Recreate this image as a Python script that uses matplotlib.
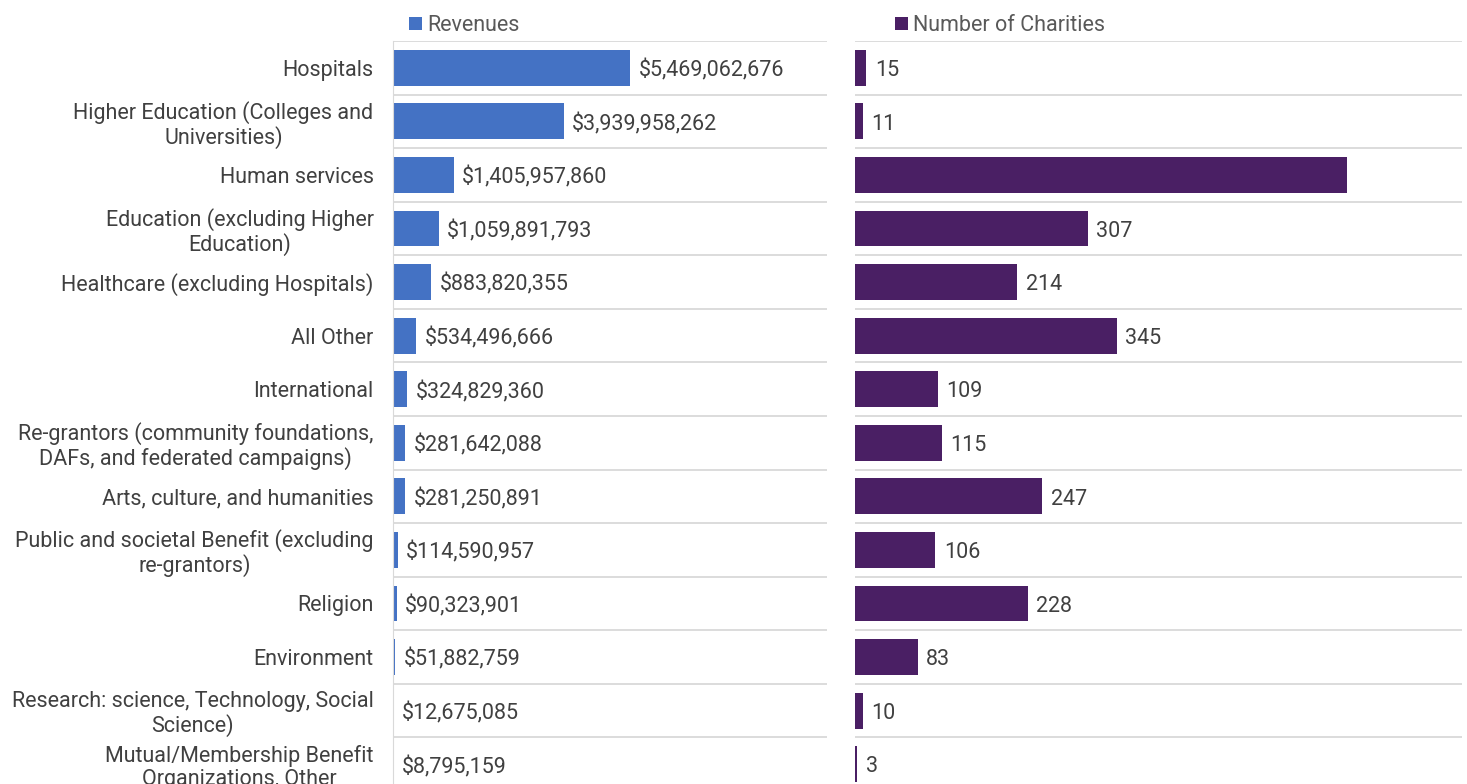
import numpy as np
import matplotlib
matplotlib.use("Agg")
import matplotlib.pyplot as plt

plt.rcParams['font.family'] = ['Roboto', 'DejaVu Sans']

# --- data ---
categories = [
    "Hospitals",
    "Higher Education (Colleges and\nUniversities)",
    "Human services",
    "Education (excluding Higher\nEducation)",
    "Healthcare (excluding Hospitals)",
    "All Other",
    "International",
    "Re-grantors (community foundations,\nDAFs, and federated campaigns)",
    "Arts, culture, and humanities",
    "Public and societal Benefit (excluding\nre-grantors)",
    "Religion",
    "Environment",
    "Research: science, Technology, Social\nScience)",
    "Mutual/Membership Benefit\nOrganizations, Other",
]
revenues = [5469062676, 3939958262, 1405957860, 1059891793, 883820355,
            534496666, 324829360, 281642088, 281250891, 114590957,
            90323901, 51882759, 12675085, 8795159]
charities = [15, 11, 648, 307, 214, 345, 109, 115, 247, 106, 228, 83, 10, 3]
# label for human services charities is not shown in the chart
charity_labels = ["15", "11", "", "307", "214", "345", "109", "115", "247",
                  "106", "228", "83", "10", "3"]

BLUE = "#4472C4"
PURPLE = "#4A1F64"
TXT = "#404040"
GRID = "#D9D9D9"
FS = 15.5

fig = plt.figure(figsize=(14.67, 7.84), dpi=100)
top = 1 - 41 / 784
h = 750 / 784
ax1 = fig.add_axes([393 / 1467, top - h, 434 / 1467, h])
ax2 = fig.add_axes([855 / 1467, top - h, 607 / 1467, h])

y = np.arange(len(categories))

b1 = ax1.barh(y, revenues, height=0.67, color=BLUE, label="Revenues")
b2 = ax2.barh(y, charities, height=0.67, color=PURPLE, label="Number of Charities")

for yi, v in zip(y, revenues):
    ax1.annotate(f"${v:,}", (v, yi), xytext=(6, -2), textcoords="offset points",
                 va="center", ha="left", fontsize=FS, color=TXT)
for yi, v, lab in zip(y, charities, charity_labels):
    if lab:
        ax2.annotate(lab, (v, yi), xytext=(6, -2), textcoords="offset points",
                     va="center", ha="left", fontsize=FS, color=TXT)

ax1.set_xlim(0, 1e10)
ax2.set_xlim(0, 800)

for ax in (ax1, ax2):
    ax.set_ylim(len(categories) - 0.5, -0.5)
    ax.set_xticks([])
    ax.set_yticks(np.arange(len(categories) + 1) - 0.5, minor=True)
    ax.grid(True, which="minor", axis="y", color=GRID, lw=1.3)
    ax.tick_params(which="both", length=0)
    for s in ax.spines.values():
        s.set_visible(False)
    ax.set_axisbelow(True)

ax1.spines["left"].set_visible(True)
ax1.spines["left"].set_color(GRID)
ax1.set_yticks(y)
ax1.set_yticklabels(categories, fontsize=FS, color=TXT,
                    multialignment="center", linespacing=1.1)
ax1.tick_params(axis="y", which="major", pad=14)
ax2.set_yticks([])

ax1.legend(loc="lower left", bbox_to_anchor=(0.018, 0.995), frameon=False,
           handlelength=0.6, handleheight=0.6, handletextpad=0.25,
           borderaxespad=0.0, fontsize=FS, labelcolor="#595959")
ax2.legend(loc="lower left", bbox_to_anchor=(0.052, 0.995), frameon=False,
           handlelength=0.6, handleheight=0.6, handletextpad=0.25,
           borderaxespad=0.0, fontsize=FS, labelcolor="#595959")

fig.savefig("out.png", dpi=100)
